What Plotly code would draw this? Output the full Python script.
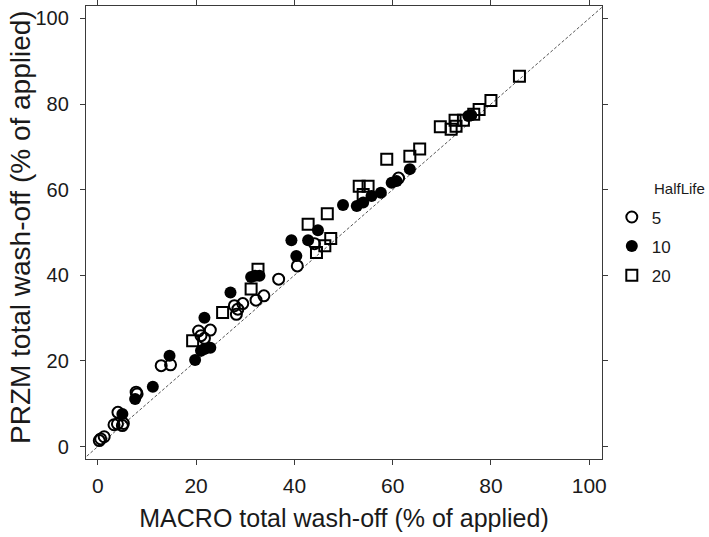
import plotly.graph_objects as go

# HalfLife = 5 (open circles)
hl5_x = [0.3, 0.6, 1.3, 3.3, 4.0, 5.0, 5.2, 4.1, 7.8, 8.0, 12.9, 14.8, 20.5, 21.7, 22.9, 21.0,
         27.8, 29.5, 28.2, 28.5, 32.2, 33.8, 36.8, 40.6, 44.1, 61.2]
hl5_y = [1.4, 1.8, 2.3, 5.1, 5.3, 4.9, 5.4, 8.0, 12.7, 12.3, 18.9, 19.1, 27.0, 25.3, 27.2, 25.9,
         32.9, 33.4, 30.9, 32.1, 34.2, 35.2, 39.1, 42.2, 47.4, 62.7]

# HalfLife = 10 (filled circles)
hl10_x = [5.0, 7.6, 11.2, 14.6, 19.8, 21.0, 22.9, 21.7, 21.7, 27.0, 31.2, 32.9, 32.0, 40.4,
          39.4, 42.8, 44.8, 49.9, 52.7, 54.0, 55.7, 57.6, 59.8, 60.8, 63.5, 75.4, 76.0]
hl10_y = [7.6, 11.1, 14.0, 21.2, 20.2, 22.4, 23.1, 22.8, 30.1, 36.0, 39.6, 39.9, 39.9, 44.5,
          48.2, 48.2, 50.5, 56.4, 56.2, 57.0, 58.5, 59.3, 61.6, 62.0, 64.8, 77.2, 77.4]

# HalfLife = 20 (open squares)
hl20_x = [19.3, 25.4, 31.2, 32.6, 44.5, 46.2, 47.4, 42.8, 46.7, 53.2, 55.0, 54.0, 58.8, 63.5,
          65.5, 69.7, 71.9, 72.7, 72.9, 74.4, 76.5, 77.6, 80.0, 85.8]
hl20_y = [24.7, 31.3, 36.8, 41.4, 45.3, 46.9, 48.6, 51.9, 54.4, 60.8, 60.8, 58.9, 67.1, 67.8,
          69.5, 74.7, 74.1, 76.2, 74.8, 76.2, 77.6, 78.7, 80.8, 86.5]

tick_vals = [0, 20, 40, 60, 80, 100]
line_x = [-3.0, 103.0]
line_y = [-3.0, 103.0]

FONT = "Liberation Sans, Arial, sans-serif"

fig = go.Figure()
fig.add_trace(go.Scatter(x=line_x, y=line_y, mode="lines", showlegend=False,
                         line=dict(color="#555555", width=1, dash="3px,2px"),
                         hoverinfo="skip"))
fig.add_trace(go.Scatter(x=hl5_x, y=hl5_y, mode="markers", name="5", legendgroup="a",
                         marker=dict(symbol="circle-open", size=11, color="black",
                                     line=dict(width=2, color="black"))))
fig.add_trace(go.Scatter(x=hl10_x, y=hl10_y, mode="markers", name="10", legendgroup="b",
                         marker=dict(symbol="circle", size=12, color="black",
                                     line=dict(width=0))))
fig.add_trace(go.Scatter(x=hl20_x, y=hl20_y, mode="markers", name="20", legendgroup="c",
                         marker=dict(symbol="square-open", size=11, color="black",
                                     line=dict(width=2, color="black"))))

axis_common = dict(
    showgrid=False, zeroline=False, showline=True, linecolor="#3a3a3a", linewidth=1.3,
    mirror="ticks", ticks="outside", ticklen=5, tickwidth=1.3, tickcolor="#3a3a3a",
    tickvals=tick_vals, automargin=False,
)

fig.update_layout(
    width=709, height=537,
    margin=dict(l=86, r=107, t=6, b=78),
    plot_bgcolor="white", paper_bgcolor="white",
    font=dict(family=FONT, color="#1a1a1a"),
    xaxis=dict(range=[-2.4, 102.6],
               tickfont=dict(family=FONT, size=21, color="#1a1a1a"), ticklabelstandoff=3,
               title=dict(text="MACRO total wash-off (% of applied)",
                          font=dict(family=FONT, size=25), standoff=13),
               **axis_common),
    yaxis=dict(range=[-2.9, 102.9],
               tickfont=dict(family=FONT, size=20, color="#1a1a1a"), ticklabelstandoff=7,
               **axis_common),
    legend=dict(x=1.019, y=0.573, xanchor="left", yanchor="top", tracegroupgap=4,
                font=dict(family=FONT, size=17), bgcolor="rgba(0,0,0,0)"),
    annotations=[
        dict(text="HalfLife", x=1.097, y=0.598, xref="paper", yref="paper",
             xanchor="left", yanchor="middle", showarrow=False,
             font=dict(family=FONT, size=15, color="#1a1a1a")),
        dict(text="PRZM total wash-off (% of applied)", textangle=-90,
             x=-0.128, y=0.512, xref="paper", yref="paper",
             xanchor="center", yanchor="middle", showarrow=False,
             font=dict(family=FONT, size=28, color="#1a1a1a")),
    ],
)

fig.write_html("out.html", config={"displayModeBar": False},
               post_script="document.body.style.margin='0';")
